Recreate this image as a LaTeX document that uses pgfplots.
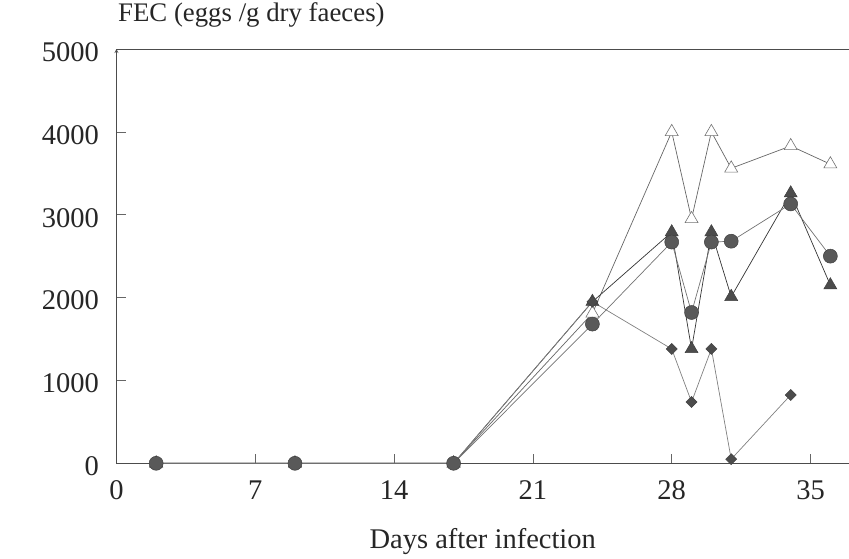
\documentclass[border=0pt]{standalone}
\usepackage{fontspec}
\setmainfont{Liberation Serif}
\usepackage{pgfplots}
\pgfplotsset{compat=1.18}
\begin{document}
\begin{tikzpicture}
\begin{axis}[
  at={(0pt,0pt)}, anchor=south west,
  scale only axis,
  width=732.5pt, height=414.3pt,
  xmin=0, xmax=36.94,
  ymin=0, ymax=5000,
  axis x line=box, axis y line=left,
  axis line style={black!70, line width=0.8pt},
  xtick={0,7,14,21,28,35},
  ytick={0,1000,2000,3000,4000,5000},
  xtick pos=bottom, ytick pos=left,
  tick align=inside,
  major tick length=9pt,
  tick style={black!60, line width=0.6pt},
  /pgf/number format/assume math mode=true,
  scaled y ticks=false,
  yticklabel style={/pgf/number format/1000 sep={}, anchor=east, xshift=-14pt, yshift=-3pt, text=black!85, font=\fontsize{28.5}{34}\selectfont},
  xticklabel style={anchor=base, yshift=-36pt, text=black!85, font=\fontsize{28.5}{34}\selectfont},
  xlabel={Days after infection},
  xlabel style={at={(axis description cs:0.5,0)}, anchor=base, yshift=-85pt, text=black!85, font=\fontsize{28.5}{34}\selectfont},
  title={FEC (eggs /g dry faeces)},
  title style={at={(axis description cs:0,1)}, anchor=base west, yshift=22pt, xshift=1.5pt, inner sep=0pt, text=black!85, font=\fontsize{26.8}{32}\selectfont},
  clip=false,
]
% open triangles
\addplot[color=black!60, line width=0.7pt, mark=triangle*, mark size=7.5pt,
  mark options={fill=white, draw=black!55, line width=0.6pt}]
  coordinates {(2,0) (9,0) (17,0) (24,1810) (28,4000) (29,2950) (30,4000) (31,3560) (34,3830) (36,3610)};
% filled triangles
\addplot[color=black!80, line width=0.7pt, mark=triangle*, mark size=7.5pt,
  mark options={fill=black!70, draw=black!75, line width=0.5pt}]
  coordinates {(2,0) (9,0) (17,0) (24,1950) (28,2790) (29,1380) (30,2790) (31,2010) (34,3260) (36,2150)};
% diamonds
\addplot[color=black!50, line width=0.7pt, mark=square*, mark size=3.9pt,
  mark options={rotate=45, fill=black!70, draw=black!75, line width=0.5pt}]
  coordinates {(2,0) (9,0) (17,0) (24,1950) (28,1380) (29,740) (30,1380) (31,50) (34,825)};
% circles
\addplot[color=black!55, line width=0.7pt, mark=*, mark size=7pt,
  mark options={fill=black!65, draw=black!75, line width=0.5pt}]
  coordinates {(2,0) (9,0) (17,0) (24,1680) (28,2670) (29,1820) (30,2670) (31,2680) (34,3130) (36,2500)};
\end{axis}
\pgfresetboundingbox
\path[use as bounding box] (-116.5pt,-94.7pt) rectangle (732.5pt,463.3pt);
\end{tikzpicture}
\end{document}
